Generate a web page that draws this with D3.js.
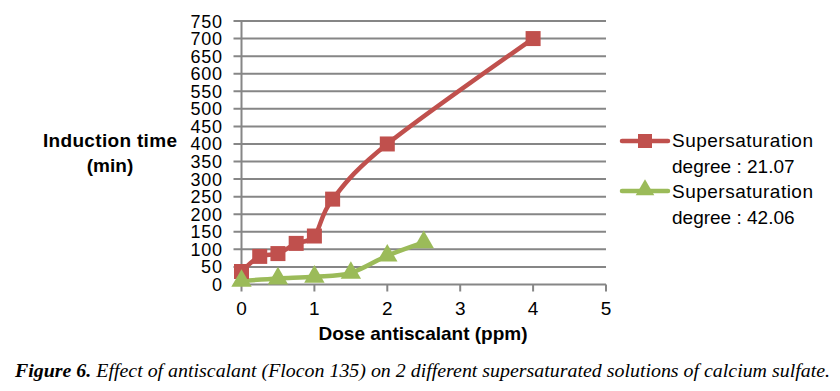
<!DOCTYPE html>
<html lang="en">
<head>
<meta charset="utf-8">
<title>Induction time vs antiscalant dose</title>
<script src="https://cdnjs.cloudflare.com/ajax/libs/d3/7.8.5/d3.min.js"></script>
<style>
  body { margin: 0; background: #fff; }
  svg { display: block; }
  text { font-family: "Liberation Sans", Arial, sans-serif; fill: #000; }
</style>
</head>
<body>
<svg id="chart" width="840" height="391"></svg>
<script>
// data
var doseRed = [0, 0.25, 0.5, 0.75, 1, 1.25, 2, 4];
var timeRed = [37, 80, 88, 117, 138, 243, 400, 700];
var doseGreen = [0, 0.5, 1, 1.5, 2, 2.5];
var timeGreen = [10, 17, 22, 33, 82, 120];
var yTicks = d3.range(0, 751, 50);
var xTicks = [0, 1, 2, 3, 4, 5];
var seriesNames = [["Supersaturation", "degree : 21.07"], ["Supersaturation", "degree : 42.06"]];

var red = "#C0504D", green = "#9BBB59", grid = "#868686";

var svg = d3.select("#chart");
var x = d3.scaleLinear().domain([0, 5]).range([241.5, 606]);
var y = d3.scaleLinear().domain([0, 750]).range([284.5, 21]);

// horizontal gridlines (extend left as ticks)
svg.append("g").selectAll("line").data(yTicks).enter().append("line")
  .attr("x1", x(0) - 8).attr("x2", x(5))
  .attr("y1", d => y(d)).attr("y2", d => y(d))
  .attr("stroke", grid).attr("stroke-width", 2);

// y axis line
svg.append("line").attr("x1", x(0)).attr("x2", x(0))
  .attr("y1", y(750)).attr("y2", y(0))
  .attr("stroke", grid).attr("stroke-width", 2);

// x ticks
svg.append("g").selectAll("line").data(xTicks).enter().append("line")
  .attr("x1", d => x(d)).attr("x2", d => x(d))
  .attr("y1", y(0)).attr("y2", y(0) + 7)
  .attr("stroke", grid).attr("stroke-width", 2);

// y labels
svg.append("g").selectAll("text").data(yTicks).enter().append("text")
  .attr("x", 222).attr("y", d => y(d) + 6.5)
  .attr("text-anchor", "end").style("font-size", "18px")
  .attr("textLength", d => String(d).length * 10.5)
  .text(d => d);

// x labels
svg.append("g").selectAll("text").data(xTicks).enter().append("text")
  .attr("x", d => x(d)).attr("y", 315)
  .attr("text-anchor", "middle").style("font-size", "19px")
  .text(d => d);

// axis titles
svg.append("text").attr("x", 423).attr("y", 340).attr("text-anchor", "middle")
  .style("font-size", "19px").style("font-weight", "bold")
  .attr("textLength", 209).text("Dose antiscalant (ppm)");
svg.append("text").attr("x", 110).attr("y", 147).attr("text-anchor", "middle")
  .style("font-size", "19px").style("font-weight", "bold")
  .attr("textLength", 134).text("Induction time");
svg.append("text").attr("x", 110).attr("y", 172).attr("text-anchor", "middle")
  .style("font-size", "19px").style("font-weight", "bold").text("(min)");

var line = d3.line().x(d => x(d[0])).y(d => y(d[1])).curve(d3.curveCatmullRom.alpha(0));
var redPts = d3.zip(doseRed, timeRed);
var greenPts = d3.zip(doseGreen, timeGreen);

svg.append("path").attr("d", line(redPts)).attr("fill", "none")
  .attr("stroke", red).attr("stroke-width", 4.5).attr("stroke-linejoin", "round");
svg.append("path").attr("d", line(greenPts)).attr("fill", "none")
  .attr("stroke", green).attr("stroke-width", 4.5).attr("stroke-linejoin", "round");

var sq = 15;
svg.append("g").selectAll("rect").data(redPts).enter().append("rect")
  .attr("x", d => x(d[0]) - sq / 2).attr("y", d => y(d[1]) - sq / 2)
  .attr("width", sq).attr("height", sq).attr("fill", red);

var tri = d3.symbol().type(d3.symbolTriangle).size(180);
svg.append("g").selectAll("path").data(greenPts).enter().append("path")
  .attr("d", tri).attr("transform", d => `translate(${x(d[0])},${y(d[1])})`)
  .attr("fill", green);

// legend
var leg = svg.append("g");
[[red, 141, 147], [green, 191, 198]].forEach(function (l, i) {
  leg.append("line").attr("x1", 622).attr("x2", 668).attr("y1", l[1]).attr("y2", l[1])
    .attr("stroke", l[0]).attr("stroke-width", 4.5).attr("stroke-linecap", "round");
  if (i === 0) {
    leg.append("rect").attr("x", 645 - 7).attr("y", l[1] - 7).attr("width", 14).attr("height", 14).attr("fill", red);
  } else {
    leg.append("path").attr("d", d3.symbol().type(d3.symbolTriangle).size(150))
      .attr("transform", `translate(645,${l[1] - 1})`).attr("fill", green);
  }
  leg.append("text").attr("x", 672).attr("y", l[2]).style("font-size", "19px")
    .attr("textLength", 141).text(seriesNames[i][0]);
  leg.append("text").attr("x", 672).attr("y", l[2] + 26).style("font-size", "19px")
    .text(seriesNames[i][1]);
});

// caption
var cap = svg.append("text").attr("x", 15).attr("y", 377)
  .attr("textLength", 815).attr("lengthAdjust", "spacingAndGlyphs")
  .style("font-family", "'Liberation Serif', 'Times New Roman', serif")
  .style("font-size", "19px").style("font-style", "italic");
cap.append("tspan").style("font-weight", "bold").text("Figure 6.");
cap.append("tspan").text(" Effect of antiscalant (Flocon 135) on 2 different supersaturated solutions of calcium sulfate.");
</script>
</body>
</html>
